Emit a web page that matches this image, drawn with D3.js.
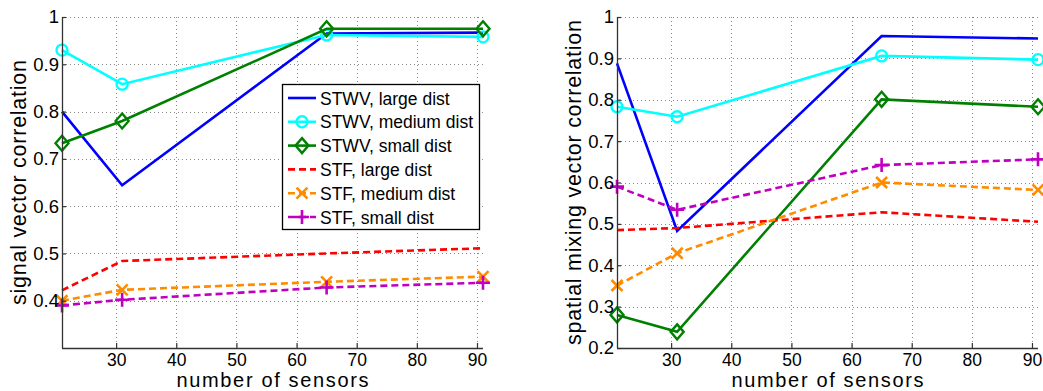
<!DOCTYPE html>
<html>
<head>
<meta charset="utf-8">
<script src="https://cdn.jsdelivr.net/npm/d3@7"></script>
<style>
  html, body { margin: 0; padding: 0; background: #fff; }
  svg { display: block; }
  text { font-family: "Liberation Sans", Arial, Helvetica, sans-serif; fill: #000; }
</style>
</head>
<body>
<svg id="chart" width="1043" height="391"></svg>
<script>
// ---------- data ----------
const sensors = [21, 31, 65, 91];
const seriesNames = ["STWV, large dist", "STWV, medium dist", "STWV, small dist",
                     "STF, large dist", "STF, medium dist", "STF, small dist"];
const xTicks = [30, 40, 50, 60, 70, 80, 90];
const leftYTicks = [0.4, 0.5, 0.6, 0.7, 0.8, 0.9, 1];
const rightYTicks = [0.2, 0.3, 0.4, 0.5, 0.6, 0.7, 0.8, 0.9, 1];

// signal vector correlation (left)
const sigStwvLarge  = [0.800, 0.644, 0.965, 0.967];
const sigStwvMedium = [0.930, 0.858, 0.962, 0.958];
const sigStwvSmall  = [0.733, 0.780, 0.975, 0.975];
const sigStfLarge   = [0.422, 0.484, 0.500, 0.511];
const sigStfMedium  = [0.400, 0.423, 0.440, 0.451];
const sigStfSmall   = [0.390, 0.402, 0.428, 0.438];

// spatial mixing vector correlation (right)
const mixStwvLarge  = [0.888, 0.483, 0.954, 0.948];
const mixStwvMedium = [0.783, 0.759, 0.906, 0.897];
const mixStwvSmall  = [0.280, 0.239, 0.801, 0.783];
const mixStfLarge   = [0.485, 0.490, 0.528, 0.505];
const mixStfMedium  = [0.351, 0.429, 0.600, 0.582];
const mixStfSmall   = [0.590, 0.534, 0.642, 0.656];

// ---------- styles ----------
const styles = [
  { color: "#0000ff", dash: null,  marker: "none" },
  { color: "#00ffff", dash: null,  marker: "circle" },
  { color: "#008000", dash: null,  marker: "diamond" },
  { color: "#ff0000", dash: "7,4", marker: "none" },
  { color: "#ff8c00", dash: "7,4", marker: "x" },
  { color: "#c000c0", dash: "7,4", marker: "plus" }
];

const svg = d3.select("#chart");

function drawMarker(g, type, cx, cy, color) {
  if (type === "circle") {
    g.append("circle").attr("cx", cx).attr("cy", cy).attr("r", 5.5)
      .attr("fill", "none").attr("stroke", color).attr("stroke-width", 2.4);
  } else if (type === "diamond") {
    g.append("path")
      .attr("d", `M${cx},${cy-7.5}L${cx+6.5},${cy}L${cx},${cy+7.5}L${cx-6.5},${cy}Z`)
      .attr("fill", "none").attr("stroke", color).attr("stroke-width", 2.4);
  } else if (type === "x") {
    const s = 5.5;
    g.append("path")
      .attr("d", `M${cx-s},${cy-s}L${cx+s},${cy+s}M${cx-s},${cy+s}L${cx+s},${cy-s}`)
      .attr("stroke", color).attr("stroke-width", 2.6).attr("fill", "none");
  } else if (type === "plus") {
    const s = 7;
    g.append("path")
      .attr("d", `M${cx-s},${cy}L${cx+s},${cy}M${cx},${cy-s}L${cx},${cy+s}`)
      .attr("stroke", color).attr("stroke-width", 2.6).attr("fill", "none");
  }
}

function drawPanel(opts) {
  const { left, right, top, bottom, yDomain, yTicks, series, yLabel, yLabelX, yLabelLen } = opts;
  const x = d3.scaleLinear().domain([21, 91]).range([left, right]);
  const y = d3.scaleLinear().domain(yDomain).range([bottom, top]);
  const g = svg.append("g");

  // grid
  const grid = g.append("g").attr("stroke", "#8a8a8a").attr("stroke-width", 1)
    .attr("stroke-dasharray", "1,3");
  xTicks.forEach(t => grid.append("line")
    .attr("x1", Math.round(x(t)) + 0.5).attr("x2", Math.round(x(t)) + 0.5)
    .attr("y1", top).attr("y2", bottom));
  yTicks.forEach(t => {
    if (Math.abs(y(t) - bottom) < 1) return;
    grid.append("line")
      .attr("x1", left).attr("x2", right)
      .attr("y1", Math.round(y(t)) + 0.5).attr("y2", Math.round(y(t)) + 0.5);
  });

  // series
  const line = d3.line().x((d, i) => x(sensors[i])).y(d => y(d));
  series.forEach((vals, k) => {
    const st = styles[k];
    g.append("path").datum(vals).attr("d", line)
      .attr("fill", "none").attr("stroke", st.color).attr("stroke-width", 2.6)
      .attr("stroke-dasharray", st.dash);
    vals.forEach((v, i) => drawMarker(g, st.marker, x(sensors[i]), y(v), st.color));
  });

  // axes (left and bottom only, inward ticks)
  const xAxis = d3.axisBottom(x).tickValues(xTicks).tickSize(-5).tickPadding(8)
    .tickFormat(d3.format("d"));
  const gx = g.append("g").attr("transform", `translate(0,${bottom})`).call(xAxis);
  const yAxis = d3.axisLeft(y).tickValues(yTicks).tickSize(-4).tickPadding(6)
    .tickFormat(d => d === 1 ? "1" : d3.format(".1f")(d));
  const gy = g.append("g").attr("transform", `translate(${left},0)`).call(yAxis);
  [gx, gy].forEach(a => {
    a.select(".domain").attr("stroke", "#333").attr("stroke-width", 1.3);
    a.selectAll(".tick line").attr("stroke", "#333").attr("stroke-width", 1.2);
    a.selectAll(".tick text")
      .attr("font-family", "'Liberation Sans', Arial, sans-serif").attr("fill", "#111");
  });
  gy.selectAll(".tick text").attr("font-size", 18.5).attr("x", -3);
  gx.selectAll(".tick text").attr("font-size", 17.5).attr("y", 17.5).attr("dy", null);
  gx.select(".domain").attr("d", `M${left},0.5H${right}`);
  gy.select(".domain").attr("d", `M0.5,${bottom}V${top}`);

  // labels
  g.append("text").attr("x", (left + right) / 2).attr("y", 386.7)
    .attr("text-anchor", "middle").attr("font-size", 20).attr("fill", "#111")
    .attr("textLength", 192).attr("lengthAdjust", "spacing")
    .text("number of sensors");
  g.append("text")
    .attr("transform", `translate(${yLabelX},${(top + bottom) / 2}) rotate(-90)`)
    .attr("text-anchor", "middle").attr("font-size", 21.5).attr("fill", "#111")
    .attr("textLength", yLabelLen).attr("lengthAdjust", "spacing")
    .text(yLabel);
  return g;
}

drawPanel({
  left: 62, right: 483, top: 17, bottom: 348,
  yDomain: [0.3, 1], yTicks: leftYTicks,
  series: [sigStwvLarge, sigStwvMedium, sigStwvSmall, sigStfLarge, sigStfMedium, sigStfSmall],
  yLabel: "signal vector correlation", yLabelX: 26, yLabelLen: 245
});

drawPanel({
  left: 617, right: 1038, top: 17, bottom: 348,
  yDomain: [0.2, 1], yTicks: rightYTicks,
  series: [mixStwvLarge, mixStwvMedium, mixStwvSmall, mixStfLarge, mixStfMedium, mixStfSmall],
  yLabel: "spatial mixing vector correlation", yLabelX: 581, yLabelLen: 325
});

// legend (left panel)
const lg = svg.append("g");
lg.append("rect").attr("x", 282.5).attr("y", 84.5).attr("width", 197).attr("height", 145)
  .attr("fill", "#fff").attr("stroke", "#000").attr("stroke-width", 1.3);
seriesNames.forEach((name, k) => {
  const st = styles[k];
  const ry = 98 + k * 23.8;
  lg.append("line").attr("x1", 288).attr("x2", 316).attr("y1", ry).attr("y2", ry)
    .attr("stroke", st.color).attr("stroke-width", 2.6).attr("stroke-dasharray", st.dash);
  drawMarker(lg, st.marker, 302, ry, st.color);
  lg.append("text").attr("x", 320).attr("y", ry + 6.5).attr("font-size", 17.5)
    .attr("fill", "#111").text(name);
});
</script>
</body>
</html>
